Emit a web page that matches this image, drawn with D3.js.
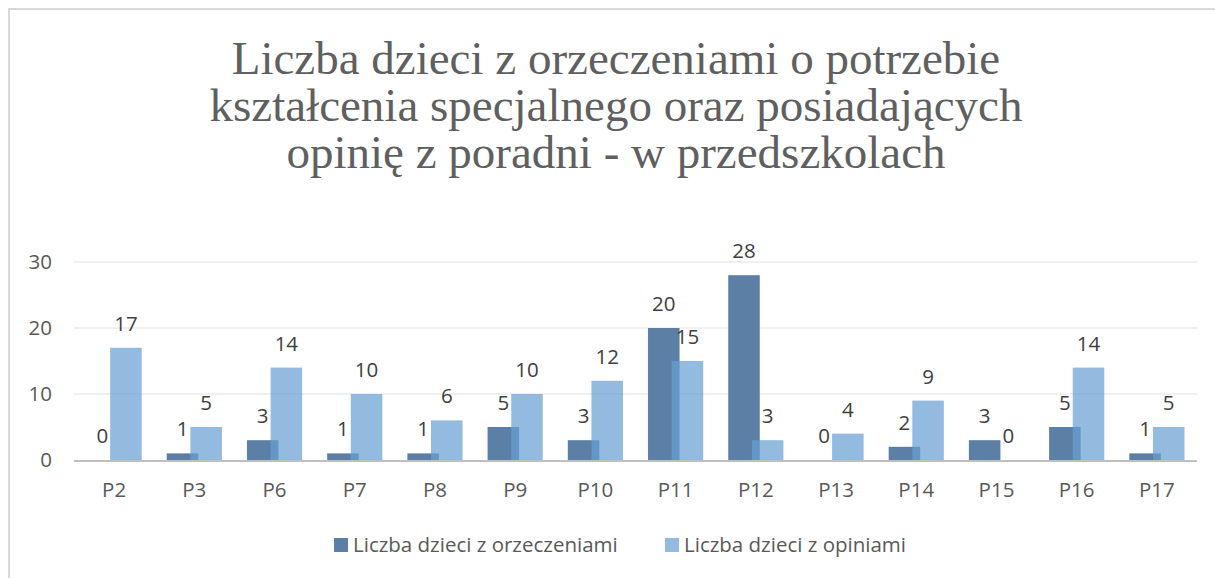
<!DOCTYPE html>
<html>
<head>
<meta charset="utf-8">
<script src="https://cdn.jsdelivr.net/npm/d3@7"></script>
<style>
  body { margin: 0; background: #fff; }
  svg { display: block; }
</style>
</head>
<body>
<div id="container"></div>
<script>
// Przedszkola - orzeczenia i opinie

const categories = ["P2", "P3", "P6", "P7", "P8", "P9", "P10", "P11", "P12", "P13", "P14", "P15", "P16", "P17"]
const orzeczenia = [0, 1, 3, 1, 1, 5, 3, 20, 28, 0, 2, 3, 5, 1]
const opinie = [17, 5, 14, 10, 6, 10, 12, 15, 3, 4, 9, 0, 14, 5]
const yTicks = [0, 10, 20, 30]
const seriesNames = ["Liczba dzieci z orzeczeniami", "Liczba dzieci z opiniami"]
const titleLines = [
    "Liczba dzieci z orzeczeniami o potrzebie",
    "kształcenia specjalnego oraz posiadających",
    "opinię z poradni - w przedszkolach"
]

const width = 1215,
    height = 578
const plot = { left: 74, right: 1197, top: 262, bottom: 460 }
const textColor = "#595959"
const sansFont = "'Open Sans', sans-serif"
const sansSize = "20.5px"

const svg = d3.select("#container").append("svg")
    .attr("width", width)
    .attr("height", height)

// chart frame
svg.append("rect")
    .attr("x", 9).attr("y", 9)
    .attr("width", 1220).attr("height", 600)
    .attr("fill", "#fff")
    .attr("stroke", "#d9d9d9")
    .attr("stroke-width", 2)

const title = svg.append("text")
    .attr("text-anchor", "middle")
    .attr("fill", "#5f5f5f")
    .style("font-family", "'Liberation Serif', serif")
    .style("font-size", "47px")

title.selectAll("tspan")
    .data(titleLines)
    .enter()
    .append("tspan")
    .attr("x", 616)
    .attr("y", (d, i) => 74 + i * 47)
    .text(d => d)

const x = d3.scaleBand()
    .domain(categories)
    .range([plot.left, plot.right])

const y = d3.scaleLinear()
    .domain([0, 30])
    .range([plot.bottom, plot.top])

// gridlines
svg.append("g")
    .selectAll("line")
    .data(yTicks.filter(d => d > 0))
    .enter()
    .append("line")
    .attr("x1", plot.left).attr("x2", plot.right)
    .attr("y1", d => y(d)).attr("y2", d => y(d))
    .attr("stroke", "#ebebeb")
    .attr("stroke-width", 1.3)

const yAxis = d3.axisLeft(y).tickValues(yTicks).tickSize(0).tickPadding(22)
svg.append("g")
    .attr("transform", `translate(${plot.left},0)`)
    .call(yAxis)
    .call(g => g.select(".domain").remove())
    .selectAll("text")
    .attr("fill", textColor)
    .style("font-family", sansFont)
    .style("font-size", sansSize)

const barW = x.bandwidth() * 0.393
const step = barW * 0.75
const groupW = barW + step

const series = [
    { name: seriesNames[0], values: orzeczenia, color: "#5b7fa5", opacity: 1, dx: 0 },
    { name: seriesNames[1], values: opinie, color: "#6a9fd3", opacity: 0.72, dx: step }
]

series.forEach(s => {
    const g = svg.append("g")
    g.selectAll("rect")
        .data(categories)
        .enter()
        .append("rect")
        .attr("x", c => x(c) + (x.bandwidth() - groupW) / 2 + s.dx)
        .attr("y", (c, i) => y(s.values[i]))
        .attr("width", barW)
        .attr("height", (c, i) => y(0) - y(s.values[i]))
        .attr("fill", s.color)
        .attr("fill-opacity", s.opacity)
})

// x axis line
svg.append("line")
    .attr("x1", plot.left).attr("x2", plot.right)
    .attr("y1", y(0) + 1).attr("y2", y(0) + 1)
    .attr("stroke", "#bfbfbf")
    .attr("stroke-width", 2)

// data labels
series.forEach(s => {
    svg.append("g")
        .selectAll("text")
        .data(categories)
        .enter()
        .append("text")
        .attr("x", c => x(c) + (x.bandwidth() - groupW) / 2 + s.dx + barW / 2)
        .attr("y", (c, i) => y(s.values[i]) - 17)
        .attr("text-anchor", "middle")
        .attr("fill", "#404040")
        .style("font-family", sansFont)
        .style("font-size", sansSize)
        .text((c, i) => s.values[i])
})

const xAxis = d3.axisBottom(x).tickSize(0).tickPadding(22)
svg.append("g")
    .attr("transform", `translate(0,${plot.bottom})`)
    .call(xAxis)
    .call(g => g.select(".domain").remove())
    .selectAll("text")
    .attr("fill", textColor)
    .style("font-family", sansFont)
    .style("font-size", sansSize)

// legend
const legendX = [334, 665]
const legend = svg.append("g")
series.forEach((s, i) => {
    legend.append("rect")
        .attr("x", legendX[i]).attr("y", 538)
        .attr("width", 14).attr("height", 14)
        .attr("fill", s.color)
        .attr("fill-opacity", s.opacity)
    legend.append("text")
        .attr("x", legendX[i] + 19).attr("y", 552)
        .attr("fill", textColor)
        .style("font-family", sansFont)
        .style("font-size", sansSize)
        .text(s.name)
})
</script>
</body>
</html>
